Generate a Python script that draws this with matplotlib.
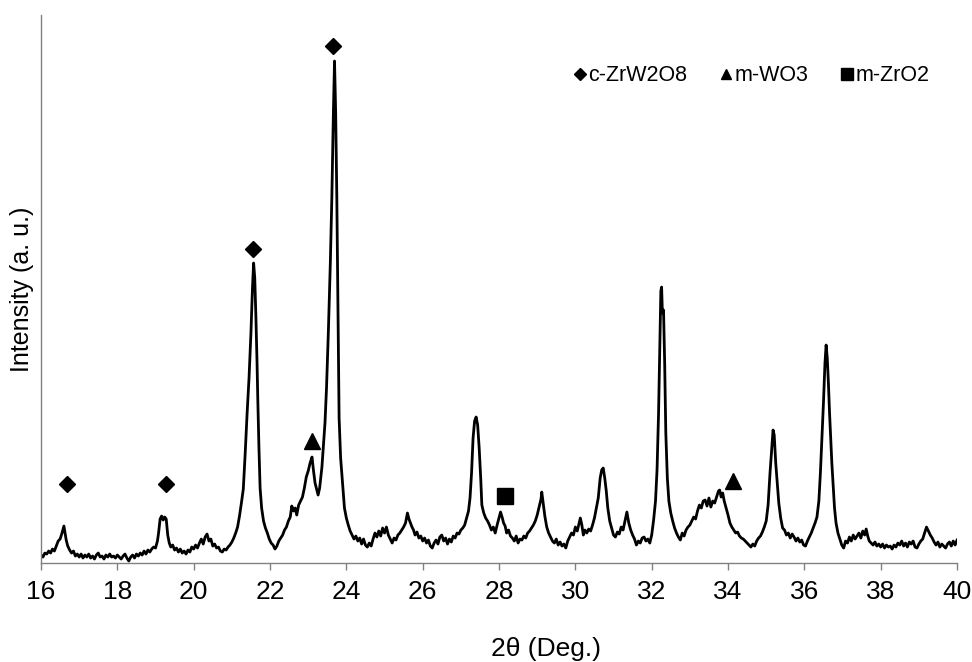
import matplotlib
matplotlib.use('Agg')
import matplotlib.pyplot as plt
from matplotlib.lines import Line2D

plt.rcParams['font.family'] = ['Liberation Sans', 'DejaVu Sans']

# XRD pattern (2theta in degrees, intensity in a.u.)
two_theta = [
    16.00, 16.05, 16.10, 16.15, 16.20, 16.25, 16.30, 16.35, 16.40, 16.45, 16.50, 16.55, 16.60, 16.63, 16.66,
    16.70, 16.75, 16.80, 16.85, 16.90, 16.95, 17.00, 17.05, 17.10, 17.15, 17.20, 17.25, 17.30, 17.35, 17.40,
    17.45, 17.50, 17.55, 17.60, 17.65, 17.70, 17.75, 17.80, 17.85, 17.90, 17.95, 18.00, 18.05, 18.10, 18.15,
    18.20, 18.25, 18.30, 18.35, 18.40, 18.45, 18.50, 18.55, 18.60, 18.65, 18.70, 18.75, 18.80, 18.85, 18.90,
    18.95, 19.00, 19.05, 19.08, 19.12, 19.16, 19.20, 19.24, 19.28, 19.32, 19.36, 19.40, 19.45, 19.50, 19.55,
    19.60, 19.65, 19.70, 19.75, 19.80, 19.85, 19.90, 19.95, 20.00, 20.05, 20.10, 20.15, 20.20, 20.25, 20.30,
    20.35, 20.40, 20.45, 20.50, 20.55, 20.60, 20.65, 20.70, 20.75, 20.80, 20.85, 20.90, 20.95, 21.00, 21.05,
    21.10, 21.15, 21.20, 21.25, 21.30, 21.35, 21.40, 21.45, 21.50, 21.54, 21.57, 21.60, 21.63, 21.66, 21.68,
    21.71, 21.74, 21.78, 21.83, 21.88, 21.93, 21.98, 22.03, 22.08, 22.13, 22.18, 22.23, 22.28, 22.33, 22.38,
    22.43, 22.48, 22.53, 22.57, 22.62, 22.66, 22.70, 22.75, 22.80, 22.85, 22.90, 22.95, 23.00, 23.05, 23.10,
    23.14, 23.18, 23.22, 23.26, 23.30, 23.36, 23.40, 23.44, 23.48, 23.53, 23.58, 23.62, 23.66, 23.69, 23.72,
    23.75, 23.78, 23.81, 23.85, 23.90, 23.95, 24.00, 24.05, 24.10, 24.15, 24.20, 24.25, 24.30, 24.35, 24.40,
    24.45, 24.50, 24.55, 24.60, 24.65, 24.70, 24.75, 24.80, 24.85, 24.90, 24.95, 25.00, 25.05, 25.10, 25.15,
    25.20, 25.25, 25.30, 25.35, 25.40, 25.45, 25.50, 25.55, 25.60, 25.64, 25.68, 25.72, 25.76, 25.80, 25.85,
    25.90, 25.95, 26.00, 26.05, 26.10, 26.15, 26.20, 26.25, 26.30, 26.35, 26.40, 26.45, 26.50, 26.55, 26.60,
    26.65, 26.70, 26.75, 26.80, 26.85, 26.90, 26.95, 27.00, 27.05, 27.10, 27.15, 27.20, 27.24, 27.28, 27.32,
    27.36, 27.40, 27.44, 27.48, 27.52, 27.55, 27.60, 27.65, 27.70, 27.75, 27.80, 27.85, 27.90, 27.95, 28.00,
    28.04, 28.08, 28.12, 28.16, 28.20, 28.25, 28.30, 28.35, 28.40, 28.45, 28.50, 28.55, 28.60, 28.65, 28.70,
    28.75, 28.80, 28.85, 28.90, 28.95, 29.00, 29.05, 29.10, 29.12, 29.15, 29.20, 29.25, 29.30, 29.35, 29.40,
    29.45, 29.50, 29.55, 29.60, 29.65, 29.70, 29.75, 29.80, 29.85, 29.90, 29.95, 30.00, 30.05, 30.10, 30.13,
    30.17, 30.21, 30.25, 30.30, 30.35, 30.40, 30.45, 30.50, 30.55, 30.60, 30.65, 30.69, 30.73, 30.77, 30.81,
    30.85, 30.90, 30.95, 31.00, 31.05, 31.10, 31.15, 31.20, 31.25, 31.30, 31.35, 31.40, 31.45, 31.50, 31.55,
    31.60, 31.65, 31.70, 31.75, 31.80, 31.85, 31.90, 31.95, 32.00, 32.05, 32.10, 32.14, 32.18, 32.21, 32.24,
    32.26, 32.28, 32.31, 32.34, 32.37, 32.41, 32.45, 32.50, 32.55, 32.60, 32.65, 32.70, 32.75, 32.80, 32.85,
    32.90, 32.95, 33.00, 33.05, 33.10, 33.15, 33.20, 33.25, 33.30, 33.35, 33.40, 33.45, 33.50, 33.55, 33.60,
    33.65, 33.70, 33.75, 33.78, 33.82, 33.86, 33.90, 33.95, 34.00, 34.05, 34.10, 34.15, 34.20, 34.25, 34.30,
    34.35, 34.40, 34.45, 34.50, 34.55, 34.60, 34.65, 34.70, 34.75, 34.80, 34.85, 34.90, 34.95, 35.00, 35.05,
    35.10, 35.14, 35.18, 35.21, 35.25, 35.29, 35.33, 35.38, 35.43, 35.48, 35.53, 35.58, 35.63, 35.68, 35.73,
    35.78, 35.83, 35.88, 35.93, 35.98, 36.03, 36.08, 36.13, 36.18, 36.23, 36.28, 36.33, 36.38, 36.42, 36.46,
    36.50, 36.54, 36.57, 36.60, 36.63, 36.66, 36.69, 36.72, 36.75, 36.79, 36.83, 36.88, 36.93, 36.98, 37.03,
    37.08, 37.13, 37.18, 37.23, 37.28, 37.33, 37.38, 37.43, 37.48, 37.53, 37.58, 37.62, 37.66, 37.70, 37.75,
    37.80, 37.85, 37.90, 37.95, 38.00, 38.05, 38.10, 38.15, 38.20, 38.25, 38.30, 38.35, 38.40, 38.45, 38.50,
    38.55, 38.60, 38.65, 38.70, 38.75, 38.80, 38.85, 38.90, 38.95, 39.00, 39.05, 39.10, 39.15, 39.20, 39.25,
    39.30, 39.35, 39.40, 39.45, 39.50, 39.55, 39.60, 39.65, 39.70, 39.75, 39.80, 39.85, 39.90, 39.95, 40.00,
]
intensity = [
    8, 6, 10, 9, 12, 10, 14, 12, 17, 22, 24, 30, 37, 30, 23,
    17, 13, 10, 12, 7, 9, 6, 9, 5, 8, 6, 9, 5, 7, 4,
    8, 10, 6, 7, 4, 8, 6, 9, 6, 7, 5, 8, 6, 4, 7,
    9, 5, 2, 6, 8, 5, 9, 7, 10, 8, 12, 9, 13, 11, 14,
    16, 15, 22, 30, 44, 47, 43, 46, 44, 28, 20, 16, 18, 13, 15,
    11, 14, 10, 12, 9, 13, 11, 16, 14, 18, 15, 20, 24, 19, 26,
    29, 22, 24, 17, 19, 15, 16, 12, 11, 14, 13, 16, 18, 21, 25,
    30, 36, 47, 60, 74, 110, 150, 185, 230, 275, 300, 285, 246, 200, 163,
    115, 75, 55, 42, 35, 30, 24, 20, 18, 14, 17, 22, 25, 28, 33,
    36, 42, 46, 57, 52, 55, 48, 58, 62, 66, 75, 86, 92, 100, 106,
    92, 80, 74, 68, 75, 96, 118, 140, 175, 233, 300, 366, 450, 502, 450,
    366, 250, 145, 105, 80, 55, 45, 38, 32, 28, 24, 27, 22, 25, 19,
    24, 18, 16, 20, 17, 24, 30, 26, 32, 27, 35, 30, 36, 28, 24,
    20, 25, 23, 28, 30, 33, 36, 40, 50, 44, 40, 36, 33, 28, 31,
    25, 27, 22, 25, 20, 23, 17, 15, 20, 23, 19, 26, 28, 22, 25,
    19, 24, 21, 27, 25, 30, 29, 33, 35, 38, 45, 52, 65, 90, 125,
    142, 146, 138, 115, 85, 58, 50, 45, 42, 38, 33, 36, 30, 38, 45,
    51, 46, 40, 37, 30, 33, 27, 25, 22, 27, 20, 24, 23, 27, 25,
    30, 32, 35, 38, 42, 48, 56, 64, 71, 62, 47, 36, 30, 26, 22,
    20, 24, 18, 21, 17, 19, 15, 22, 26, 30, 28, 36, 32, 40, 45,
    38, 28, 33, 30, 34, 32, 38, 45, 55, 65, 85, 93, 95, 85, 72,
    55, 42, 35, 28, 26, 31, 29, 36, 33, 42, 51, 40, 33, 28, 24,
    18, 22, 20, 25, 26, 22, 24, 20, 28, 43, 62, 93, 150, 210, 272,
    276, 250, 253, 200, 130, 85, 62, 50, 42, 35, 30, 26, 23, 30, 27,
    33, 36, 38, 42, 46, 44, 52, 58, 55, 62, 63, 57, 65, 56, 62,
    60, 66, 72, 73, 66, 70, 62, 55, 48, 40, 36, 33, 30, 31, 27,
    25, 24, 22, 20, 18, 16, 19, 17, 22, 25, 27, 31, 36, 42, 58,
    90, 112, 133, 128, 100, 80, 60, 45, 35, 33, 28, 30, 25, 29, 26,
    22, 25, 21, 23, 18, 17, 22, 26, 30, 35, 40, 46, 62, 90, 125,
    160, 200, 218, 205, 180, 150, 125, 100, 80, 55, 40, 30, 24, 18, 15,
    22, 20, 26, 22, 28, 24, 27, 30, 25, 32, 28, 34, 27, 22, 20,
    18, 21, 17, 19, 16, 19, 15, 18, 16, 17, 14, 18, 16, 20, 18,
    22, 17, 20, 16, 21, 19, 22, 16, 15, 19, 22, 24, 30, 36, 32,
    28, 25, 21, 18, 21, 16, 19, 17, 15, 19, 21, 17, 22, 18, 23,
]

# phase markers
zrw2o8_x = [16.68, 19.28, 21.56, 23.65]
zrw2o8_y = [79, 79, 314, 517]
wo3_x = [23.10, 34.14]
wo3_y = [122, 82]
zro2_x = [28.16]
zro2_y = [67]

xticks = list(range(16, 41, 2))

fig = plt.figure(figsize=(9.72, 6.62), dpi=100)
ax = fig.add_axes([0.0422, 0.1495, 0.9424, 0.8278])

ax.plot(two_theta, intensity, color='black', linewidth=2.0)
ax.plot(zrw2o8_x, zrw2o8_y, 'D', color='black', markersize=8)
ax.plot(wo3_x, wo3_y, '^', color='black', markersize=11.5)
ax.plot(zro2_x, zro2_y, 's', color='black', markersize=11)

ax.set_xlim(16, 40)
ax.set_ylim(0, 548)
ax.set_xticks(xticks)
ax.set_yticks([])
ax.tick_params(axis='x', direction='out', length=5, width=1, colors='#808080',
               labelcolor='black', labelsize=19, pad=7)
for side in ['top', 'right']:
    ax.spines[side].set_visible(False)
for side in ['left', 'bottom']:
    ax.spines[side].set_color('#808080')
    ax.spines[side].set_linewidth(1)

ax.set_xlabel('2θ (Deg.)', fontsize=19, va='center')
ax.xaxis.set_label_coords(0.551, -0.157)
ax.set_ylabel('Intensity (a. u.)', fontsize=18, va='center')
ax.yaxis.set_label_coords(-0.021, 0.5)

handles = [
    Line2D([], [], linestyle='none', marker='D', color='black', markersize=6),
    Line2D([], [], linestyle='none', marker='^', color='black', markersize=7),
    Line2D([], [], linestyle='none', marker='s', color='black', markersize=8.5),
]
ax.legend(handles, ['c-ZrW2O8', 'm-WO3', 'm-ZrO2'], loc='center right',
          bbox_to_anchor=(0.9705, 0.889), ncol=3, frameon=False, fontsize=15.5,
          handlelength=0.5, handletextpad=0.15, columnspacing=1.55,
          borderpad=0, borderaxespad=0)

fig.savefig('out.png', dpi=100)
